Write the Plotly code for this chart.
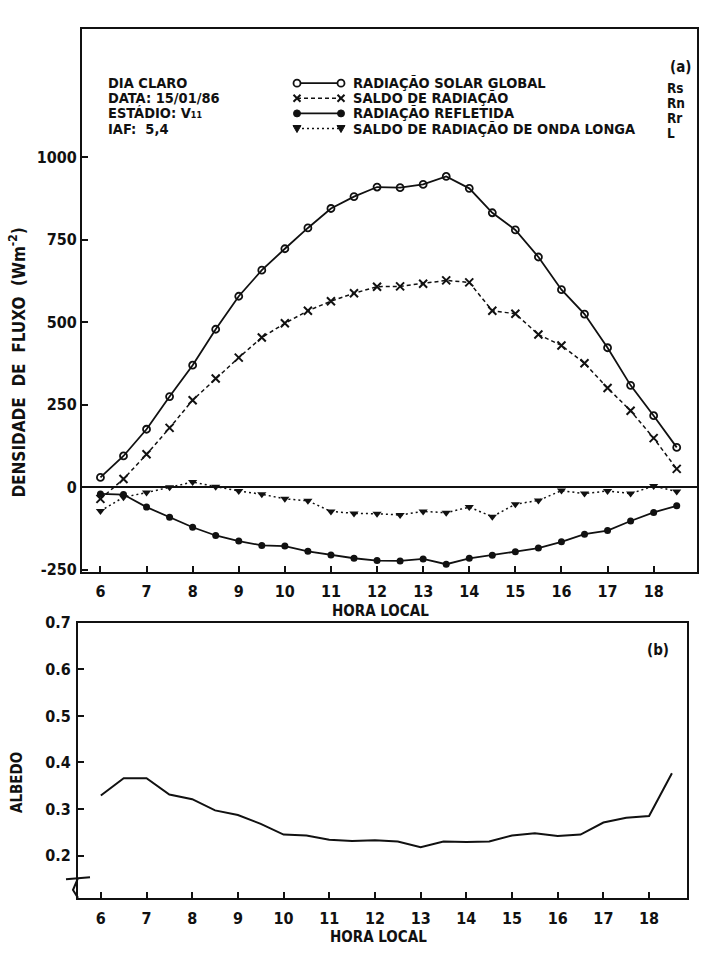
import plotly.graph_objects as go

hours = [6.0, 6.5, 7.0, 7.5, 8.0, 8.5, 9.0, 9.5, 10.0, 10.5, 11.0, 11.5, 12.0,
         12.5, 13.0, 13.5, 14.0, 14.5, 15.0, 15.5, 16.0, 16.5, 17.0, 17.5, 18.0, 18.5]

rs = [30, 95, 176, 275, 370, 479, 579, 658, 723, 786, 845, 881, 910,
      908, 918, 942, 906, 832, 780, 698, 599, 525, 423, 309, 217, 121]
rn = [-35, 25, 100, 180, 264, 330, 393, 454, 497, 535, 564, 588, 608,
      609, 617, 627, 621, 535, 526, 463, 430, 376, 301, 232, 149, 56]
rr = [-20, -22, -60, -91, -121, -146, -163, -176, -178, -194, -205, -215, -222,
      -223, -217, -233, -215, -206, -195, -184, -165, -142, -131, -102, -76, -56]
lw = [-72, -30, -16, 0, 16, 2, -11, -21, -35, -41, -73, -79, -80,
      -84, -73, -77, -60, -89, -51, -40, -10, -19, -11, -19, 4, -13]
albedo = [0.329, 0.366, 0.366, 0.331, 0.321, 0.297, 0.287, 0.268, 0.245, 0.243,
          0.234, 0.231, 0.233, 0.230, 0.218, 0.230, 0.229, 0.230, 0.243, 0.248,
          0.242, 0.245, 0.271, 0.281, 0.285, 0.377]

hour_ticks = list(range(6, 19))
flux_ticks = [-250, 0, 250, 500, 750, 1000]
flux_labels = ["-250", "0", "250", "500", "750", "1000"]
alb_ticks = [0.2, 0.3, 0.4, 0.5, 0.6, 0.7]
alb_labels = ["0.2", "0.3", "0.4", "0.5", "0.6", "0.7"]

names = ["RADIAÇÃO SOLAR GLOBAL", "SALDO DE RADIAÇÃO", "RADIAÇÃO REFLETIDA",
         "SALDO DE RADIAÇÃO DE ONDA LONGA"]
symbols_short = ["Rs", "Rn", "Rr", "L"]
info_lines = ["DIA CLARO", "DATA: 15/01/86", "ESTÁDIO: V₁₁", "IAF:  5,4"]

W, H = 702, 954
FONT = "DejaVu Sans Condensed, Liberation Sans Narrow, Liberation Sans, Arial"
BLACK = "#111111"
ROW0, ROWSTEP = 75.5, 15.4


def px(x):
    return x / W


def py(y):
    return 1 - y / H


def bold(size):
    return dict(family=FONT, size=size, color=BLACK, weight="bold")


fig = go.Figure()

styles = [
    dict(line=dict(color=BLACK, width=1.8),
         marker=dict(symbol="circle-open", size=7, color=BLACK, line=dict(width=1.8))),
    dict(line=dict(color=BLACK, width=1.5, dash="4px,3px"),
         marker=dict(symbol="x-thin-open", size=8, color=BLACK,
                     line=dict(width=2, color=BLACK))),
    dict(line=dict(color=BLACK, width=1.8),
         marker=dict(symbol="circle", size=7, color=BLACK)),
    dict(line=dict(color=BLACK, width=1.5, dash="2px,3px"),
         marker=dict(symbol="triangle-down", size=8, color=BLACK)),
]
for series, name, st in zip([rs, rn, rr, lw], names, styles):
    fig.add_trace(go.Scatter(x=hours, y=series, name=name, mode="lines+markers",
                             showlegend=False, **st))

fig.add_trace(go.Scatter(x=hours, y=albedo, xaxis="x2", yaxis="y2", mode="lines",
                         name="ALBEDO", showlegend=False,
                         line=dict(color=BLACK, width=2)))

tickfont = bold(16)
axis_common = dict(ticks="inside", ticklen=6, tickwidth=1.5, tickcolor=BLACK,
                   showgrid=False, showline=True, linecolor=BLACK, linewidth=2,
                   mirror=True, tickfont=tickfont)

fig.update_layout(
    width=W, height=H,
    margin=dict(l=0, r=0, t=0, b=0),
    paper_bgcolor="white", plot_bgcolor="white",
    font=dict(family=FONT, color=BLACK),
    showlegend=False,
    xaxis=dict(domain=[px(82), px(697)], anchor="y", range=[5.6, 18.94],
               tickvals=hour_ticks, zeroline=False, ticklabelstandoff=4,
               **axis_common),
    yaxis=dict(domain=[py(573), py(20)], anchor="x", range=[-256, 1390],
               tickvals=flux_ticks, ticktext=flux_labels,
               zeroline=True, zerolinecolor=BLACK, zerolinewidth=2,
               ticklabelstandoff=0, **axis_common),
    xaxis2=dict(domain=[px(78), px(687)], anchor="y2", range=[5.5, 18.83],
                tickvals=hour_ticks, zeroline=False, ticklabelstandoff=5,
                **axis_common),
    yaxis2=dict(domain=[py(905), py(625)], anchor="x2", range=[0.109, 0.7],
                tickvals=alb_ticks, ticktext=alb_labels, zeroline=False,
                ticklabelstandoff=2, **axis_common),
)


def ann(x, y, text, size, xanchor="center", angle=0):
    return dict(x=px(x), y=py(y), xref="paper", yref="paper", text=text,
                showarrow=False, xanchor=xanchor, yanchor="middle",
                textangle=angle, font=bold(size))


annots = []
for i, t in enumerate(info_lines):
    annots.append(ann(106, ROW0 + ROWSTEP * i, t, 14.5, "left"))
for i, t in enumerate(names):
    annots.append(ann(351, ROW0 + ROWSTEP * i, t, 14.5, "left"))
for i, t in enumerate(symbols_short):
    annots.append(ann(665, ROW0 + 5 + ROWSTEP * i, t, 13.5, "left"))
annots += [
    ann(680, 59, "(a)", 15),
    ann(658, 653, "(b)", 15),
    ann(380, 613, "HORA LOCAL", 15),
    ann(378, 945, "HORA LOCAL", 15),
    ann(17, 360, "DENSIDADE  DE  FLUXO  (Wm<sup>-2</sup>)", 17, angle=-90),
    ann(17, 788, "ALBEDO", 15, angle=-90),
]
fig.update_layout(annotations=annots)

# hand-made legend keys (line sample with a marker at each end)
x_a, x_b = 297, 341
dashes = ["solid", "4px,3px", "solid", "2px,3px"]
for i in range(4):
    yk = ROW0 + ROWSTEP * i
    fig.add_shape(type="line", xref="paper", yref="paper",
                  x0=px(x_a), x1=px(x_b), y0=py(yk), y1=py(yk),
                  line=dict(color=BLACK, width=1.6, dash=dashes[i]))
    for xk in (x_a, x_b):
        common = dict(xref="paper", yref="paper", xsizemode="pixel",
                      ysizemode="pixel", xanchor=px(xk), yanchor=py(yk))
        if i == 0:
            fig.add_shape(type="circle", x0=-3.5, x1=3.5, y0=-3.5, y1=3.5,
                          fillcolor="white", line=dict(color=BLACK, width=1.8),
                          **common)
        elif i == 1:
            fig.add_shape(type="path", path="M -3.5 -3.5 L 3.5 3.5 M -3.5 3.5 L 3.5 -3.5",
                          line=dict(color=BLACK, width=2), **common)
        elif i == 2:
            fig.add_shape(type="circle", x0=-3.5, x1=3.5, y0=-3.5, y1=3.5,
                          fillcolor=BLACK, line=dict(color=BLACK, width=1),
                          **common)
        else:
            fig.add_shape(type="path", path="M -4 3 L 4 3 L 0 -4 Z",
                          fillcolor=BLACK, line=dict(color=BLACK, width=1),
                          **common)

# axis break mark on albedo axis
fig.add_shape(type="path", xref="paper", yref="paper",
              path=f"M {px(66)} {py(886)} L {px(90)} {py(884)} "
                   f"M {px(78)} {py(885)} L {px(73)} {py(897)} L {px(78)} {py(905)}",
              line=dict(color=BLACK, width=2))

fig.write_html("out.html", config={"displayModeBar": False},
               post_script="document.body.style.margin='0';"
                           "document.documentElement.style.margin='0';")
